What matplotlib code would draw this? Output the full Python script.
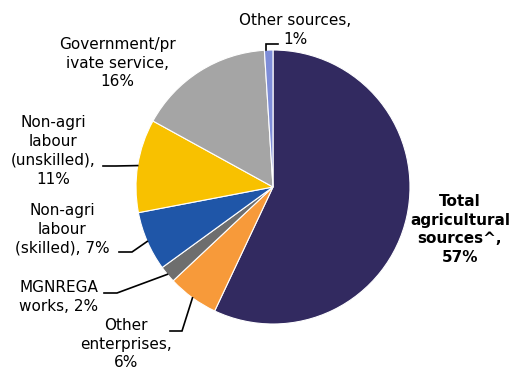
import numpy as np
import matplotlib
matplotlib.use("Agg")
import matplotlib.pyplot as plt

# income share by source, clockwise from the top
labels = ["Total\nagricultural\nsources^,\n57%", "Other\nenterprises,\n6%", "MGNREGA\nworks, 2%",
          "Non-agri\nlabour\n(skilled), 7%", "Non-agri\nlabour\n(unskilled),\n11%",
          "Government/pr\nivate service,\n16%", "Other sources,\n1%"]
shares = [57, 6, 2, 7, 11, 16, 1]
colors = ["#322a60", "#f79a3a", "#6e6e6e", "#1f56a8", "#f8c100", "#a5a5a5", "#7e8dd8"]

W, H = 513, 369
cx, cy, r = 273, 187, 137

fig = plt.figure(figsize=(W / 100, H / 100), dpi=100)
ax = fig.add_axes([0, 0, 1, 1])

# y axis is flipped below, so counterclock=True runs clockwise on screen
wedges, _ = ax.pie(shares, colors=colors, startangle=-90, counterclock=True,
                   center=(cx, cy), radius=r, frame=True,
                   wedgeprops=dict(edgecolor="white", linewidth=0.8))
ax.set_xlim(0, W)
ax.set_ylim(H, 0)
ax.set_aspect("equal")
ax.axis("off")

# label centre and leader elbow points in pixels; None = no leader
layout = [
    ((460, 229.5), None),
    ((126, 344), [(170, 331), (182, 331)]),
    ((59, 297), [(104, 293), (117, 293)]),
    ((62, 229), [(119, 252), (132, 252)]),
    ((53, 151), [(103, 166), (116, 166)]),
    ((117, 63), None),
    ((295, 30), [(278, 44), (266, 44), (266, 50)]),
]

cum = np.cumsum([0] + shares)
for i, (lab, (pos, elbow)) in enumerate(zip(labels, layout)):
    ax.text(pos[0], pos[1], lab, ha="center", va="center", fontsize=11,
            fontweight="bold" if i == 0 else "normal", linespacing=1.32,
            family="DejaVu Sans")
    if elbow is not None:
        mid = (cum[i] + cum[i + 1]) / 2 / 100 * 2 * np.pi
        ex = cx + r * np.sin(mid)
        ey = cy - r * np.cos(mid)
        if i == len(shares) - 1:
            # smallest slice: drop straight down onto the rim
            ex, ey = elbow[-1]
            elbow = elbow[:-1]
        xs = [p[0] for p in elbow] + [ex]
        ys = [p[1] for p in elbow] + [ey]
        ax.plot(xs, ys, color="black", lw=1.2, solid_joinstyle="miter")

fig.savefig("out.png", dpi=100)
